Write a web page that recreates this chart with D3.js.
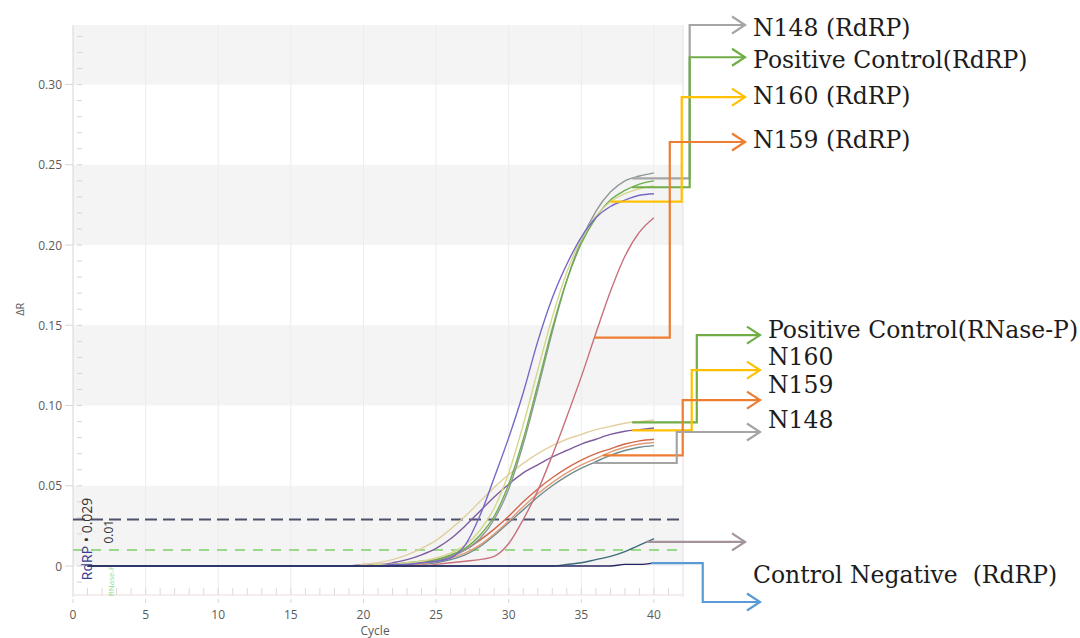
<!DOCTYPE html>
<html><head><meta charset="utf-8">
<script src="https://cdn.jsdelivr.net/npm/d3@7"></script>
<style>
html,body{margin:0;padding:0;background:#fff;}
svg{display:block;}
text{white-space:pre;}
</style></head><body>
<svg id="chart" width="1080" height="638"></svg>
<script>
// ---------------- DATA ----------------
const cycles = [1,2,3,4,5,6,7,8,9,10,11,12,13,14,15,16,17,18,19,20,21,22,23,24,25,26,27,28,29,30,31,32,33,34,35,36,37,38,39,40];
const xTicks = [0,5,10,15,20,25,30,35,40];
const yTicks = [0,0.05,0.10,0.15,0.20,0.25,0.30];
const yTickLabels = ["0","0.05","0.10","0.15","0.20","0.25","0.30"];
const thresholdValues = [0.029, 0.01];
const thresholdNames = ["RdRP", "RNase-P"];
const thresholdTexts = ["0.029", "0.01"];

// RdRP amplification curves
const rdrpPurple = [0,0,0,0,0,0,0,0,0,0,0,0,0,0,0,0,0,0,0,0,
  0.000,0.001,0.001,0.002,0.003,0.005,0.013,0.031,0.055,0.080,0.108,0.140,0.167,0.188,0.205,0.217,0.224,0.228,0.231,0.232];
const rdrpBeige = [0,0,0,0,0,0,0,0,0,0,0,0,0,0,0,0,0,0,0,0,
  0.001,0.001,0.002,0.003,0.005,0.008,0.013,0.022,0.036,0.058,0.088,0.122,0.155,0.183,0.204,0.218,0.227,0.232,0.235,0.237];
const rdrpGreen = [0,0,0,0,0,0,0,0,0,0,0,0,0,0,0,0,0,0,0,0,
  0.000,0.001,0.002,0.003,0.004,0.007,0.011,0.019,0.031,0.051,0.079,0.113,0.148,0.178,0.201,0.217,0.228,0.234,0.238,0.240];
const rdrpGray = [0,0,0,0,0,0,0,0,0,0,0,0,0,0,0,0,0,0,0,0,
  0.000,0.000,0.001,0.002,0.003,0.006,0.010,0.017,0.029,0.048,0.076,0.110,0.146,0.178,0.203,0.221,0.233,0.240,0.243,0.245];
const rdrpRed = [0,0,0,0,0,0,0,0,0,0,0,0,0,0,0,0,0,0,0,0,
  0,0,0,0,0.001,0.002,0.003,0.004,0.006,0.014,0.029,0.047,0.069,0.093,0.118,0.145,0.171,0.193,0.208,0.217];

// RNase-P amplification curves
const lowBeige = [0,0,0,0,0,0,0,0,0,0,0,0,0,0,0,0,0,0,0,
  0.001,0.002,0.004,0.007,0.011,0.016,0.023,0.031,0.040,0.049,0.057,0.064,0.070,0.075,0.079,0.082,0.085,0.087,0.089,0.090,0.091];
const lowMauve = [0,0,0,0,0,0,0,0,0,0,0,0,0,0,0,0,0,0,0,
  0.001,0.001,0.002,0.004,0.007,0.011,0.017,0.025,0.034,0.043,0.051,0.058,0.063,0.068,0.072,0.076,0.079,0.082,0.084,0.085,0.086];
const lowOrange1 = [0,0,0,0,0,0,0,0,0,0,0,0,0,0,0,0,0,0,0,0,
  0,0,0.001,0.002,0.004,0.006,0.010,0.016,0.023,0.031,0.040,0.048,0.055,0.061,0.066,0.070,0.073,0.076,0.078,0.079];
const lowOrange2 = [0,0,0,0,0,0,0,0,0,0,0,0,0,0,0,0,0,0,0,0,
  0,0,0,0.001,0.003,0.005,0.008,0.013,0.020,0.028,0.037,0.045,0.052,0.058,0.063,0.067,0.071,0.074,0.076,0.077];
const lowGray = [0,0,0,0,0,0,0,0,0,0,0,0,0,0,0,0,0,0,0,0,
  0,0,0,0.001,0.002,0.004,0.007,0.012,0.019,0.027,0.035,0.043,0.050,0.056,0.061,0.065,0.069,0.072,0.074,0.075];

// Negative control curves
const negTeal = [0,0,0,0,0,0,0,0,0,0,0,0,0,0,0,0,0,0,0,0,
  0,0,0,0,0,0,0,0,0,0,0,0,0,0.001,0.002,0.004,0.006,0.009,0.013,0.017];
const negNavy = [0,0,0,0,0,0,0,0,0,0,0,0,0,0,0,0,0,0,0,0,
  0,0,0,0,0,0,0,0,0,0,0,0,0,0,0,0,0,0.001,0.001,0.002];

const seriesNames = ["lowGray","lowOrange2","lowOrange1","lowMauve","lowBeige","rdrpRed","rdrpGray","rdrpGreen","rdrpBeige","rdrpPurple","negTeal","negNavy"];
const seriesValues = [lowGray,lowOrange2,lowOrange1,lowMauve,lowBeige,rdrpRed,rdrpGray,rdrpGreen,rdrpBeige,rdrpPurple,negTeal,negNavy];

const annotationLabels = ["N148 (RdRP)","Positive Control(RdRP)","N160 (RdRP)","N159 (RdRP)",
  "Positive Control(RNase-P)","N160","N159","N148","","Control Negative  (RdRP)"];
const annotationSeries = ["rdrpGray","rdrpGreen","rdrpBeige","rdrpRed",
  "lowBeige","lowMauve","lowOrange2","lowGray","negTeal","negNavy"];
const annotationCycles = [38.5,38.5,37.0,35.9,38.5,38.5,36.5,35.8,39.5,39.8];

// ---------------- STYLE / LAYOUT ----------------
const seriesColors = {
  lowGray:"#6f8c8c", lowOrange2:"#e29a78", lowOrange1:"#d2684a", lowMauve:"#7e5b9e", lowBeige:"#e2d0a0",
  rdrpRed:"#c8707c", rdrpGray:"#8f9898", rdrpGreen:"#6cae4e", rdrpBeige:"#d6d68c", rdrpPurple:"#7768c6",
  negTeal:"#3e6b7c", negNavy:"#24245e"
};
// connector layout: elbow x (cycles), arrow level (ΔR), arrow tip (cycles), label offsets (px)
const annotLayout = [
  {color:"#a5a5a5", elbow:42.46, arrowV:0.3371, tip:46.27, dx:8,  dy:11},
  {color:"#70ad47", elbow:42.46, arrowV:0.3170, tip:46.27, dx:8,  dy:11},
  {color:"#ffc000", elbow:41.91, arrowV:0.2922, tip:46.27, dx:8,  dy:7},
  {color:"#ed7d31", elbow:41.09, arrowV:0.2642, tip:46.27, dx:8,  dy:6},
  {color:"#70ad47", elbow:42.95, arrowV:0.1439, tip:47.30, dx:8,  dy:3},
  {color:"#ffc000", elbow:42.60, arrowV:0.1221, tip:47.30, dx:8,  dy:-5},
  {color:"#ed7d31", elbow:41.98, arrowV:0.1034, tip:47.30, dx:8,  dy:-7},
  {color:"#a5a5a5", elbow:41.57, arrowV:0.0835, tip:47.30, dx:8,  dy:-4},
  {color:"#a3939c", elbow:null,  arrowV:null,   tip:46.27, dx:0,  dy:0},
  {color:"#5b9bd5", elbow:43.36, arrowV:-0.0224,tip:47.30, dx:-7, dy:-19}
];

const W = 1080, H = 638;
const plot = {left:73, right:683, top:25, bottom:597};
const svg = d3.select("#chart");
const x = d3.scaleLinear().domain([0,42]).range([plot.left, plot.right]);
const y = d3.scaleLinear().domain([-0.0193,0.3371]).range([plot.bottom, plot.top]);

// background bands
const bandStarts = [0, 0.10, 0.20, 0.30];
svg.append("g").selectAll("rect").data(bandStarts).join("rect")
  .attr("x", plot.left).attr("width", plot.right - plot.left)
  .attr("y", d => y(Math.min(d + 0.05, 0.3371)))
  .attr("height", d => y(d) - y(Math.min(d + 0.05, 0.3371)))
  .attr("fill", "#f4f4f4");

// vertical grid
svg.append("g").selectAll("line").data(xTicks.filter(d => d > 0)).join("line")
  .attr("x1", d => x(d)).attr("x2", d => x(d))
  .attr("y1", plot.top).attr("y2", plot.bottom - 2)
  .attr("stroke", "#ececec").attr("stroke-width", 1);

// frame lines
svg.append("line").attr("x1", plot.left).attr("x2", plot.left).attr("y1", plot.top).attr("y2", plot.bottom)
  .attr("stroke", "#d6d6d6");
svg.append("line").attr("x1", plot.right).attr("x2", plot.right).attr("y1", plot.top).attr("y2", plot.bottom)
  .attr("stroke", "#e8dce8");
svg.append("line").attr("x1", plot.left).attr("x2", plot.right).attr("y1", plot.bottom - 2).attr("y2", plot.bottom - 2)
  .attr("stroke", "#eddcdc");

// y minor ticks
const yMinor = d3.range(-1, 34).map(i => i / 100);
svg.append("g").selectAll("line").data(yMinor).join("line")
  .attr("x1", plot.left + 4).attr("x2", plot.left + 9)
  .attr("y1", d => y(d)).attr("y2", d => y(d))
  .attr("stroke", "#d4d4d4");
// y major ticks + labels
const yAxisG = svg.append("g");
yAxisG.selectAll("line").data(yTicks).join("line")
  .attr("x1", plot.left - 8).attr("x2", plot.left)
  .attr("y1", d => y(d)).attr("y2", d => y(d)).attr("stroke", "#d6d6d6");
yAxisG.selectAll("text").data(yTicks).join("text")
  .attr("x", plot.left - 11).attr("y", d => y(d) + 4.5)
  .attr("text-anchor", "end").attr("font-family", "Open Sans, sans-serif")
  .attr("font-size", 12).attr("fill", "#5a5a5a")
  .text((d, i) => yTickLabels[i]);

// x minor ticks
const xMinor = d3.range(1, 42);
svg.append("g").selectAll("line").data(xMinor).join("line")
  .attr("x1", d => x(d)).attr("x2", d => x(d))
  .attr("y1", plot.bottom - 9).attr("y2", plot.bottom - 2)
  .attr("stroke", "#e2d8d8");
const xAxisG = svg.append("g");
xAxisG.selectAll("line").data(xTicks).join("line")
  .attr("x1", d => x(d)).attr("x2", d => x(d))
  .attr("y1", plot.bottom + 2).attr("y2", plot.bottom + 6).attr("stroke", "#d6d6d6");
xAxisG.selectAll("text").data(xTicks).join("text")
  .attr("x", d => x(d)).attr("y", 619)
  .attr("text-anchor", "middle").attr("font-family", "Open Sans, sans-serif")
  .attr("font-size", 12).attr("fill", "#5a5a5a")
  .text(d => d);

// axis titles
svg.append("text").attr("transform", `translate(24,${y(0.16)}) rotate(-90)`)
  .attr("text-anchor", "middle").attr("font-family", "Open Sans, sans-serif")
  .attr("font-size", 11).attr("fill", "#5a5a5a").text("ΔR");
svg.append("text").attr("x", x(20.8)).attr("y", 635)
  .attr("text-anchor", "middle").attr("font-family", "Open Sans, sans-serif")
  .attr("font-size", 12).attr("fill", "#5a5a5a").text("Cycle");

// thresholds
const thrStyle = [{stroke:"#4c5068", dash:"12,6"}, {stroke:"#9ad98a", dash:"10,8"}];
svg.append("g").selectAll("line").data(thresholdValues).join("line")
  .attr("x1", plot.left).attr("x2", plot.right)
  .attr("y1", d => y(d)).attr("y2", d => y(d))
  .attr("stroke", (d, i) => thrStyle[i].stroke).attr("stroke-width", 2)
  .attr("stroke-dasharray", (d, i) => thrStyle[i].dash);

// threshold labels
const t1 = svg.append("text").attr("transform", `translate(92,${y(-0.0088)}) rotate(-90)`)
  .attr("font-family", "Open Sans, sans-serif").attr("font-size", 14);
t1.append("tspan").attr("fill", "#3c3f8f").text(thresholdNames[0]);
t1.append("tspan").attr("fill", "#333").text(" • " + thresholdTexts[0]);
svg.append("text").attr("transform", `translate(114,${y(-0.0188)}) rotate(-90)`)
  .attr("font-family", "Open Sans, sans-serif").attr("font-size", 8).attr("fill", "#8fe08f")
  .text(thresholdNames[1]);
svg.append("text").attr("transform", `translate(113,${y(0.014)}) rotate(-90)`)
  .attr("font-family", "Open Sans, sans-serif").attr("font-size", 12).attr("fill", "#333")
  .text(thresholdTexts[1]);

// curves
const line = d3.line().x((d, i) => x(cycles[i])).y(d => y(d)).curve(d3.curveMonotoneX);
svg.append("g").selectAll("path").data(seriesValues).join("path")
  .attr("d", d => line(d))
  .attr("fill", "none")
  .attr("stroke", (d, i) => seriesColors[seriesNames[i]])
  .attr("stroke-width", 1.4);

// interpolate a series value at a cycle
function valueAt(vals, c) {
  const i = d3.bisectLeft(cycles, c);
  if (cycles[i] === c) return vals[i];
  const c0 = cycles[i - 1], c1 = cycles[i];
  const t = (c - c0) / (c1 - c0);
  return vals[i - 1] + t * (vals[i] - vals[i - 1]);
}

// annotation connectors
const aG = svg.append("g");
annotationLabels.forEach((lab, i) => {
  const L = annotLayout[i];
  const vals = seriesValues[seriesNames.indexOf(annotationSeries[i])];
  const c0 = annotationCycles[i];
  const v0 = valueAt(vals, c0);
  let pts;
  let ay;
  if (L.elbow === null) {
    ay = y(v0);
    pts = [[x(c0), ay], [x(L.tip), ay]];
  } else {
    ay = y(L.arrowV);
    pts = [[x(c0), y(v0)], [x(L.elbow), y(v0)], [x(L.elbow), ay], [x(L.tip), ay]];
  }
  aG.append("path").attr("d", d3.line()(pts))
    .attr("fill", "none").attr("stroke", L.color).attr("stroke-width", 2.2);
  const tx = x(L.tip);
  aG.append("path").attr("d", d3.line()([[tx - 13, ay - 8.5], [tx, ay], [tx - 13, ay + 8.5]]))
    .attr("fill", "none").attr("stroke", L.color).attr("stroke-width", 2.2);
  if (lab) {
    aG.append("text").attr("x", tx + L.dx).attr("y", ay + L.dy)
      .attr("font-family", "DejaVu Serif, serif").attr("font-size", 23.5)
      .attr("fill", "#1c1c1c").text(lab);
  }
});
</script>
</body></html>
